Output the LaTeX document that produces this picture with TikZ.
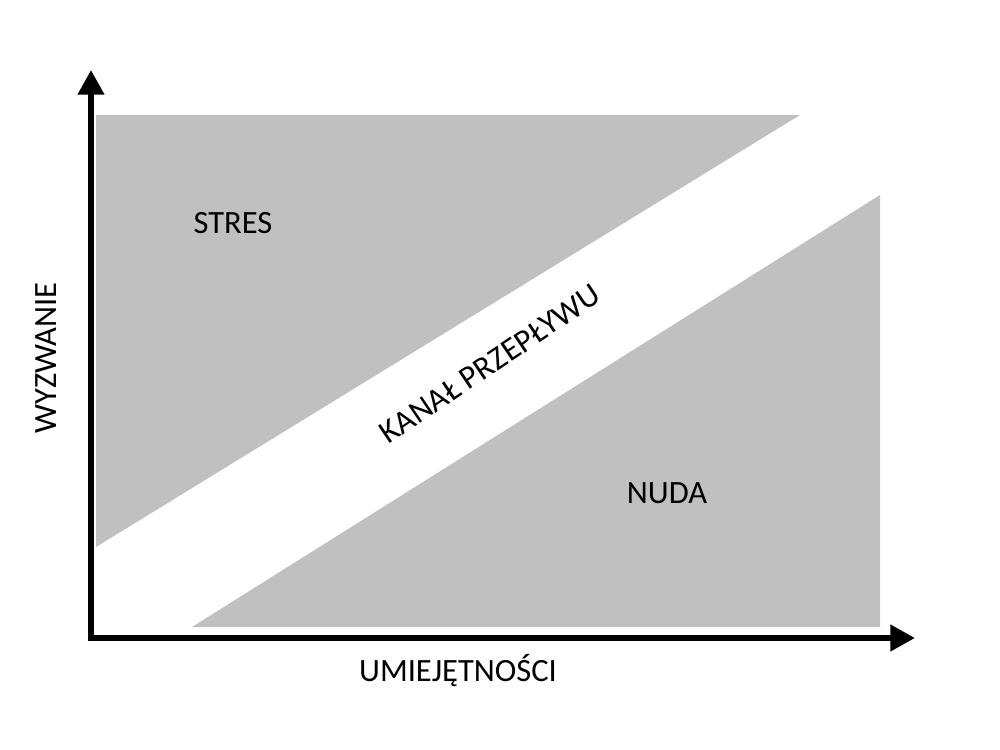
\documentclass[tikz,border=0pt]{standalone}
\usepackage{fontspec}
\setmainfont{Carlito}
\usetikzlibrary{arrows.meta}
\definecolor{zone}{RGB}{192,192,192}
\tikzset{
  zonefill/.style={fill=zone,draw=none},
  axis/.style={line width=3.2pt,miter limit=10,line join=miter,{Triangle[length=14pt,width=14.5pt]}-{Triangle[length=14pt,width=14.5pt]}},
  lbl/.style={font=\fontsize{18.5}{22}\selectfont,inner sep=0pt}
}
\begin{document}
\begin{tikzpicture}[x=0.02cm,y=-0.02cm]
\useasboundingbox (0,0) rectangle (1000,750);
\fill[zonefill] (96,115) -- (800,115) -- (96,547) -- cycle;
\fill[zonefill] (192,627) -- (880,195) -- (880,627) -- cycle;
\coordinate (ytip) at (91,70);
\coordinate (origin) at (91,638);
\coordinate (xtip) at (915,638);
\draw[axis] (ytip) -- (origin) -- (xtip);
\node[lbl] (stres) at (233,223) {STRES};
\node[lbl] (nuda) at (667,493) {NUDA};
\node[lbl] (umie) at (458,671) {UMIEJĘTNOŚCI};
\node[lbl,rotate=90] (wyzw) at (46,358) {WYZWANIE};
\node[lbl,rotate=34] (kanal) at (490,364) {KANAŁ PRZEPŁYWU};
\end{tikzpicture}
\end{document}
